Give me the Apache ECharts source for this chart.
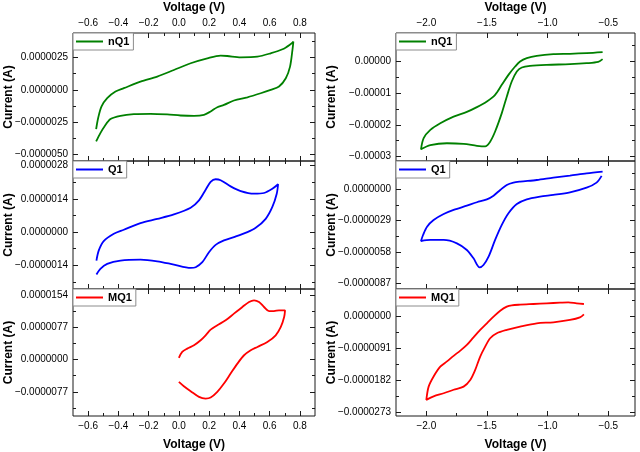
<!DOCTYPE html>
<html><head><meta charset="utf-8">
<script src="https://cdn.jsdelivr.net/npm/echarts@6/dist/echarts.min.js"></script>
<style>html,body{margin:0;padding:0;background:#fff}#c{width:640px;height:452px}</style>
</head><body><div id="c"></div>
<script>
// ---- Data (voltage in V, current in µA) ----
const L_nQ1_V = [-0.547,-0.534,-0.512,-0.474,-0.419,-0.364,-0.254,-0.143,-0.033,0.078,0.188,0.276,0.320,0.409,0.519,0.607,0.685,0.740,0.757,
                 0.751,0.735,0.707,0.662,0.607,0.541,0.453,0.364,0.298,0.254,0.210,0.166,0.100,0.011,-0.077,-0.187,-0.298,-0.386,-0.452,-0.492,-0.519,-0.547];
const L_nQ1_I = [-3.03,-2.19,-1.29,-0.64,-0.13,0.13,0.64,1.03,1.54,2.06,2.44,2.65,2.62,2.52,2.57,2.83,3.14,3.55,3.73,
                 3.09,1.80,0.90,0.26,0.00,-0.26,-0.57,-0.82,-1.16,-1.34,-1.67,-1.93,-2.01,-1.98,-1.90,-1.85,-1.88,-2.01,-2.26,-2.83,-3.34,-3.99];

const L_Q1_V = [-0.545,-0.530,-0.497,-0.430,-0.364,-0.254,-0.143,-0.033,0.078,0.133,0.177,0.210,0.243,0.276,0.342,0.409,0.497,0.563,0.618,0.656,
                0.647,0.618,0.574,0.508,0.453,0.364,0.298,0.243,0.199,0.155,0.111,0.078,-0.033,-0.143,-0.254,-0.386,-0.474,-0.519,-0.545];
const L_Q1_I = [-1.20,-0.78,-0.38,-0.07,0.10,0.38,0.56,0.75,1.03,1.34,1.79,2.12,2.23,2.19,1.93,1.73,1.62,1.65,1.83,2.02,
                1.62,1.06,0.56,0.18,0.00,-0.21,-0.35,-0.54,-0.85,-1.27,-1.48,-1.51,-1.37,-1.23,-1.16,-1.20,-1.34,-1.55,-1.79];

const L_MQ1_V = [0.000,0.022,0.055,0.100,0.144,0.177,0.210,0.254,0.309,0.364,0.420,0.464,0.497,0.530,0.563,0.596,0.629,0.662,0.702,
                 0.696,0.674,0.640,0.585,0.519,0.475,0.431,0.387,0.342,0.298,0.254,0.210,0.177,0.133,0.078,0.033,0.000];
const L_MQ1_I = [0.4,1.83,2.63,3.43,4.62,5.82,7.17,8.21,9.40,11.0,12.6,13.8,14.2,13.8,12.6,11.6,11.6,11.8,11.8,
                 10.2,7.81,5.82,4.22,3.03,2.23,1.04,-0.96,-3.35,-5.74,-7.73,-9.09,-9.32,-8.93,-7.57,-6.38,-5.34];

const R_nQ1_V = [-0.547,-0.679,-0.816,-0.953,-1.090,-1.172,-1.227,-1.268,-1.323,-1.378,-1.433,-1.501,-1.583,-1.666,-1.775,-1.885,-1.967,-2.022,-2.044,
                 -1.967,-1.830,-1.693,-1.583,-1.515,-1.474,-1.433,-1.378,-1.337,-1.296,-1.254,-1.213,-1.145,-1.008,-0.816,-0.679,-0.583,-0.547];
const R_nQ1_I = [2.95,2.63,2.42,2.32,1.79,1.05,0.00,-1.58,-4.21,-7.37,-10.5,-12.6,-14.4,-15.9,-17.4,-19.5,-21.6,-24.2,-27.7,
                 -26.4,-25.8,-26.0,-26.6,-26.8,-25.3,-22.1,-16.3,-11.1,-6.32,-3.16,-1.89,-1.37,-1.05,-0.84,-0.53,-0.11,0.74];

const R_Q1_V = [-0.547,-0.679,-0.816,-0.953,-1.090,-1.227,-1.282,-1.337,-1.391,-1.446,-1.501,-1.583,-1.666,-1.775,-1.857,-1.940,-1.994,-2.027,-2.044,
                -1.967,-1.857,-1.748,-1.666,-1.611,-1.561,-1.529,-1.487,-1.433,-1.378,-1.323,-1.254,-1.172,-1.063,-0.953,-0.816,-0.679,-0.597,-0.555];
const R_Q1_I = [1.64,1.48,1.27,1.08,0.86,0.71,0.62,0.40,-0.06,-0.59,-0.93,-1.20,-1.51,-1.91,-2.29,-2.84,-3.46,-4.23,-4.79,
                -4.69,-4.69,-5.00,-5.62,-6.39,-7.23,-7.01,-6.24,-4.69,-3.30,-2.22,-1.36,-0.93,-0.68,-0.52,-0.28,0.15,0.62,1.24];

const R_MQ1_V = [-0.701,-0.761,-0.830,-0.898,-1.008,-1.117,-1.227,-1.296,-1.337,-1.391,-1.446,-1.501,-1.556,-1.611,-1.666,-1.720,-1.775,-1.830,-1.885,-1.940,-1.981,-2.000,
                 -1.940,-1.857,-1.775,-1.693,-1.638,-1.597,-1.556,-1.515,-1.474,-1.419,-1.337,-1.227,-1.090,-0.953,-0.816,-0.734,-0.701];
const R_MQ1_I = [3.61,3.80,4.09,3.99,3.80,3.61,3.42,3.23,2.85,1.71,0.00,-1.90,-3.80,-5.90,-8.08,-9.70,-11.2,-12.8,-14.3,-17.1,-20.0,-23.8,
                 -22.8,-21.9,-20.9,-20.0,-18.1,-15.2,-11.4,-8.56,-6.18,-4.76,-3.80,-2.85,-1.90,-1.62,-0.95,-0.19,0.67];

// ---- Tick values ----
const xTicksLeft  = [-0.6,-0.4,-0.2,0.0,0.2,0.4,0.6,0.8];
const xTicksRight = [-2.0,-1.5,-1.0,-0.5];
const yTicks_L_nQ1 = [-5.0,-2.5,0,2.5];
const yTicks_L_Q1  = [-1.4,0,1.4,2.8];
const yTicks_L_MQ1 = [-7.7,0,7.7,15.4];
const yTicks_R_nQ1 = [-30,-20,-10,0];
const yTicks_R_Q1  = [-8.7,-5.8,-2.9,0];
const yTicks_R_MQ1 = [-27.3,-18.2,-9.1,0];

// ---- Layout / style ----
const FONT = '"Liberation Sans", Arial, sans-serif';
const FRAME = '#1a1a1a';
const colL = {left:73, width:242}, colR = {left:396, width:239};
const rows = [{top:33,height:128},{top:161,height:128},{top:289,height:127}];

function minorsOf(maj, lo, hi){
  const step = maj[1]-maj[0], out=[];
  for (let k=-1;k<maj.length;k++){ const v = maj[0]+step*(k+0.5); if (v>lo+1e-9 && v<hi-1e-9) out.push(+v.toFixed(6)); }
  return out;
}
const minus = s => s.replace('-', '\u2212');

const panels = [
  {col:colL,row:0,name:'nQ1',color:'#008000',V:L_nQ1_V,I:L_nQ1_I,xr:[-0.7,0.9],xt:xTicksLeft,yr:[-5.5,4.4],yt:yTicks_L_nQ1,dec:7},
  {col:colL,row:1,name:'Q1', color:'#0000FF',V:L_Q1_V, I:L_Q1_I, xr:[-0.7,0.9],xt:xTicksLeft,yr:[-2.4,3.0],yt:yTicks_L_Q1,dec:7},
  {col:colL,row:2,name:'MQ1',color:'#FF0000',V:L_MQ1_V,I:L_MQ1_I,xr:[-0.7,0.9],xt:xTicksLeft,yr:[-13.5,16.9],yt:yTicks_L_MQ1,dec:7},
  {col:colR,row:0,name:'nQ1',color:'#008000',V:R_nQ1_V,I:R_nQ1_I,xr:[-2.25,-0.28],xt:xTicksRight,yr:[-31.4,9.0],yt:yTicks_R_nQ1,dec:5},
  {col:colR,row:1,name:'Q1', color:'#0000FF',V:R_Q1_V, I:R_Q1_I, xr:[-2.25,-0.28],xt:xTicksRight,yr:[-9.23,2.62],yt:yTicks_R_Q1,dec:7},
  {col:colR,row:2,name:'MQ1',color:'#FF0000',V:R_MQ1_V,I:R_MQ1_I,xr:[-2.25,-0.28],xt:xTicksRight,yr:[-28.4,7.9],yt:yTicks_R_MQ1,dec:7}
];

const grids=[], xAxes=[], yAxes=[], series=[], legends=[];
const nameStyle = {fontFamily:FONT, fontSize:12, fontWeight:'bold', color:'#000'};
const labelStyle = {fontFamily:FONT, fontSize:10, color:'#000', margin:5};

panels.forEach((p,i)=>{
  const r = rows[p.row];
  grids.push({left:p.col.left, top:r.top, width:p.col.width, height:r.height, show:true,
    borderColor:FRAME, borderWidth:1, backgroundColor:'transparent', containLabel:false, outerBoundsMode:'none'});
  const xi = xAxes.length, yi = yAxes.length;
  const base = {type:'value', gridIndex:i, splitLine:{show:false}, axisLine:{show:false,onZero:false}, silent:true, nameMoveOverlap:false};
  const xMin = minorsOf(p.xt, p.xr[0], p.xr[1]);
  const yMin = minorsOf(p.yt, p.yr[0], p.yr[1]);
  [['bottom', p.row===2, 23], ['top', p.row===0, 19]].forEach(([pos, lab, gap])=>{
    xAxes.push(Object.assign({}, base, {position:pos, min:p.xr[0], max:p.xr[1],
      axisTick:{show:true, inside:true, length:5, lineStyle:{color:FRAME,width:1}, customValues:p.xt},
      axisLabel:Object.assign({show:lab, customValues:p.xt, formatter:v=>minus(v.toFixed(1))}, labelStyle),
      name: lab ? 'Voltage (V)' : '', nameLocation:'middle', nameGap: gap, nameTextStyle:nameStyle}));
    xAxes.push(Object.assign({}, base, {position:pos, min:p.xr[0], max:p.xr[1],
      axisTick:{show:true, inside:true, length:3, lineStyle:{color:FRAME,width:1}, customValues:xMin},
      axisLabel:{show:false}}));
  });
  [['left', true], ['right', false]].forEach(([pos, lab])=>{
    yAxes.push(Object.assign({}, base, {position:pos, min:p.yr[0], max:p.yr[1],
      axisTick:{show:true, inside:true, length:5, lineStyle:{color:FRAME,width:1}, customValues:p.yt},
      axisLabel:Object.assign({show:lab, customValues:p.yt, formatter:v=>minus((v/1e6).toFixed(p.dec))}, labelStyle),
      name: lab ? 'Current (A)' : '', nameLocation:'middle', nameGap: 58, nameRotate:90, nameTextStyle:nameStyle}));
    yAxes.push(Object.assign({}, base, {position:pos, min:p.yr[0], max:p.yr[1],
      axisTick:{show:true, inside:true, length:3, lineStyle:{color:FRAME,width:1}, customValues:yMin},
      axisLabel:{show:false}}));
  });
  series.push({type:'line', name:p.name, xAxisIndex:xi, yAxisIndex:yi, symbol:'none', showSymbol:false,
    smooth:0.3, clip:true, color:p.color, lineStyle:{color:p.color, width:1.8},
    data:p.V.map((v,k)=>[v, p.I[k]])});
  legends.push({left:p.col.left, top:r.top, orient:'vertical', data:[p.name], selectedMode:false,
    icon:'rect', itemWidth:27, itemHeight:2, padding:[3,4,3,3], itemGap:0,
    borderColor:'#8c8c8c', borderWidth:1, backgroundColor:'#fff', borderRadius:0,
    textStyle:{fontFamily:FONT, fontSize:11, fontWeight:'bold', color:'#000'}});
});

const chart = echarts.init(document.getElementById('c'), null, {renderer:'canvas'});
chart.setOption({animation:false, backgroundColor:'#fff', grid:grids, xAxis:xAxes, yAxis:yAxes, series:series, legend:legends});
</script></body></html>
